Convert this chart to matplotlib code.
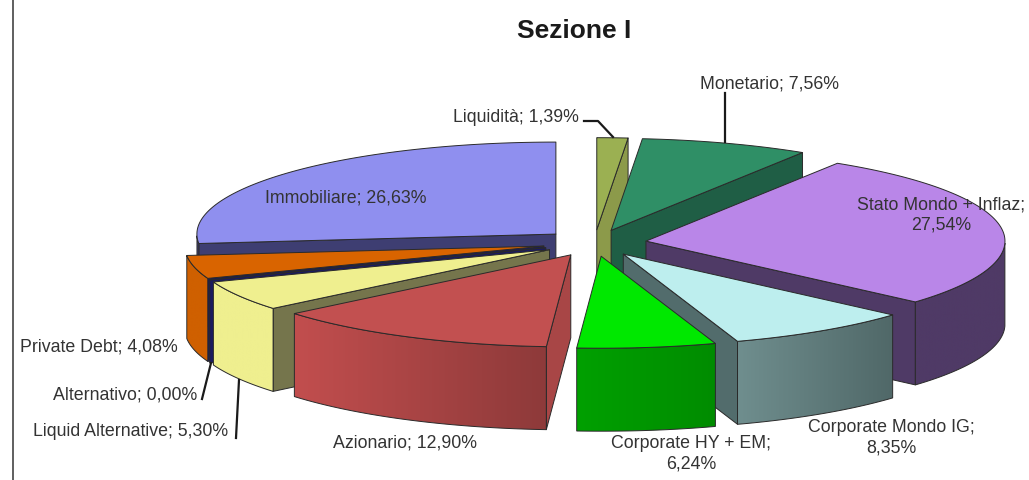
from __future__ import annotations

import matplotlib
matplotlib.use("Agg")
import matplotlib.pyplot as plt
import numpy as np
from matplotlib.colors import LinearSegmentedColormap
from matplotlib.patches import Polygon

# clockwise from 12 o'clock
names = ["Liquidità", "Monetario", "Stato Mondo + Inflaz", "Corporate Mondo IG", "Corporate HY + EM",
         "Azionario", "Liquid Alternative", "Alternativo", "Private Debt", "Immobiliare"]
values = [1.39, 7.56, 27.54, 8.35, 6.24, 12.90, 5.30, 0.00, 4.08, 26.63]

top_colors = ["#9BB052", "#2F8F66", "#B986E8", "#BDEEEE", "#00E800",
              "#C25050", "#EFEF8F", "#1A1A60", "#D96400", "#8F8FEF"]
face_colors = ["#8C9A4A", "#1F5E45", "#4F3A66", "#526C6C", "#009400",
               "#A84646", "#75754C", "#1A1A60", "#1A1A60", "#3E3E72"]
rim_left = ["#8C9A4A", "#1F5E45", "#4F3A66", "#6F8E8E", "#00A000",
            "#C24E4E", "#EFEF8F", "#1A1A60", "#CF6000", "#3E3E72"]
rim_right = ["#8C9A4A", "#1F5E45", "#4F3A66", "#506868", "#008C00",
             "#8E3A3A", "#EFEF8F", "#1A1A60", "#CF6000", "#3E3E72"]

# back to front
draw_order = [9, 0, 1, 2, 8, 7, 6, 5, 3, 4]

# label centre x, centre y
label_pos = [(516, 117), (769, 84), (941, 215), (891, 438), (661 + 30, 454),
             (405, 443), (131, 432), (125, 395), (99, 347), (346, 198)]
two_line = [2, 3, 4]

leaders = [([584, 598, 613], [121, 121, 137]),
           ([725, 725], [93, 142]),
           ([211, 202], [363, 399]),
           ([239, 236], [380, 438])]

CX, CY = 594.5, 243.0
RX, RY = 359.0, 92.0
DEPTH = 83.0
EXPLODE = 52.0 / 359.0
EDGE = "#2a2a2a"


def project(deg, r=1.0):
    a = np.radians(deg)
    return RX * r * np.sin(a), -RY * r * np.cos(a)


def draw_slice(ax, t0, t1, top, face, left, right, z):
    mid = (t0 + t1) / 2
    ox, oy = project(mid, EXPLODE)
    ax0, ay0 = CX + ox, CY + oy

    arc = np.linspace(t0, t1, 80) if t1 > t0 else np.array([t0])
    ex, ey = project(arc)
    ex = ex + ax0
    ey = ey + ay0

    # radial cut faces that look towards the viewer
    for t, sign, px, py in [(t0, -90, ex[0], ey[0]), (t1, 90, ex[-1], ey[-1])]:
        if np.cos(np.radians(t + sign)) < 0:
            ax.fill([ax0, px, px, ax0], [ay0, py, py + DEPTH, ay0 + DEPTH],
                    fc=face, ec=EDGE, lw=0.7, zorder=z, joinstyle="round")

    # outer wall, gradient clipped to the wall outline
    vis = (arc >= 90) & (arc <= 270)
    if vis.sum() > 1:
        xs, ys = ex[vis], ey[vis]
        outline = np.c_[np.r_[xs, xs[::-1]], np.r_[ys, ys[::-1] + DEPTH]]
        wall = Polygon(outline, closed=True, fc="none", ec=EDGE, lw=0.7, zorder=z + 0.2)
        ax.add_patch(wall)
        cmap = LinearSegmentedColormap.from_list("wall", [left, right])
        img = ax.imshow(np.linspace(0, 1, 128)[None, :], cmap=cmap, aspect="auto", zorder=z + 0.1,
                        extent=(xs.min(), xs.max(), ys.max() + DEPTH, ys.min()))
        img.set_clip_path(wall)

    # top surface
    ax.fill(np.r_[ax0, ex], np.r_[ay0, ey], fc=top, ec=EDGE, lw=0.7, zorder=z + 0.3, joinstyle="round")


def main() -> None:
    plt.rcParams["font.family"] = ["Liberation Sans", "DejaVu Sans"]
    fig = plt.figure(figsize=(10.29, 4.8), dpi=100)
    ax = fig.add_axes([0, 0, 1, 1])
    ax.axis("off")

    edges = np.r_[0, np.cumsum(values)] / np.sum(values) * 360
    for z, i in enumerate(draw_order):
        draw_slice(ax, edges[i], edges[i + 1], top_colors[i], face_colors[i],
                   rim_left[i], rim_right[i], z + 1)

    ax.plot([13, 13], [0, 480], color="#444444", lw=1.2, zorder=0)

    for xs, ys in leaders:
        ax.plot(xs, ys, color="#1a1a1a", lw=1.6, zorder=30)

    for i, (name, val) in enumerate(zip(names, values)):
        sep = "\n" if i in two_line else " "
        txt = f"{name};{sep}{val:.2f}%".replace(".", ",")
        x, y = label_pos[i]
        ax.text(x, y, txt, ha="center", va="center", fontsize=12.8, color="#333333",
                linespacing=1.3, zorder=40)

    ax.text(574, 31, "Sezione I", ha="center", va="center", fontsize=19,
            fontweight="bold", color="#1a1a1a", zorder=40)

    # imshow changes the limits, so set them last
    ax.set_xlim(0, 1029)
    ax.set_ylim(480, 0)

    fig.savefig("out.png", dpi=100, facecolor="white")
    plt.close(fig)


if __name__ == "__main__":
    main()
